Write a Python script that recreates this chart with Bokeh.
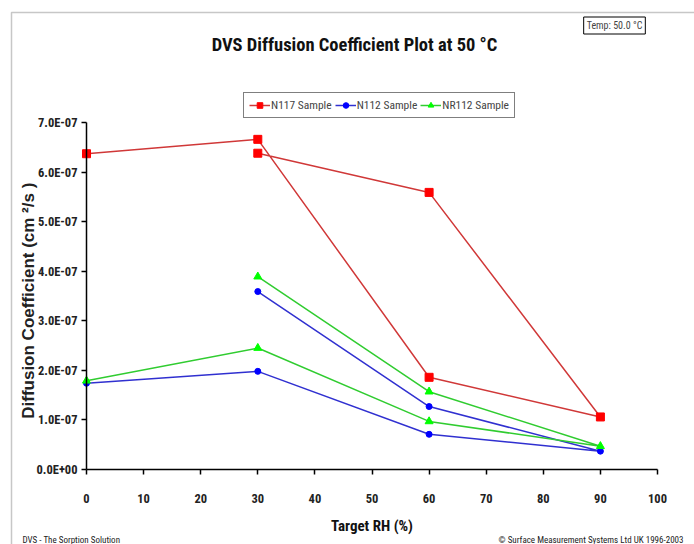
from bokeh.plotting import figure
from bokeh.models import (FixedTicker, CustomJSTickFormatter, Label, Legend, LegendItem,
                          BoxAnnotation, Range1d)
from bokeh.embed import file_html
from bokeh.resources import INLINE

# Data: sorption then desorption sequence
rh = [0, 30, 60, 90, 60, 30]
n117 = [6.37e-7, 6.66e-7, 1.86e-7, 1.06e-7, 5.59e-7, 6.38e-7]
n112 = [1.74e-7, 1.98e-7, 0.71e-7, 0.37e-7, 1.27e-7, 3.59e-7]
nr112 = [1.79e-7, 2.45e-7, 0.97e-7, 0.47e-7, 1.57e-7, 3.89e-7]

x_ticks = [0, 10, 20, 30, 40, 50, 60, 70, 80, 90, 100]
y_ticks = [0.0, 1e-7, 2e-7, 3e-7, 4e-7, 5e-7, 6e-7, 7e-7]
x_lim = (0, 100)
y_lim = (0.0, 7e-7)

F_NARROW = "Roboto Condensed"
F_WIDE = "Liberation Sans"

W, H = 694, 544
PX_L, PX_R, PX_T, PX_B = 86, 657, 122, 469
sx = (PX_R - PX_L) / (x_lim[1] - x_lim[0])
sy = (PX_B - PX_T) / (y_lim[1] - y_lim[0])
x_range = Range1d(x_lim[0] - PX_L / sx, x_lim[1] + (W - PX_R) / sx)
y_range = Range1d(y_lim[0] - (H - PX_B) / sy, y_lim[1] + PX_T / sy)

p = figure(width=W, height=H, output_backend="svg", toolbar_location=None,
           x_range=x_range, y_range=y_range,
           min_border_left=0, min_border_right=0, min_border_top=0, min_border_bottom=0)
p.outline_line_color = None
p.xgrid.visible = False
p.ygrid.visible = False
p.background_fill_color = "white"
p.border_fill_color = "white"

for ax in (p.xaxis, p.yaxis):
    ax.axis_line_color = "black"
    ax.axis_line_width = 1.5
    ax.major_tick_line_color = "black"
    ax.major_tick_line_width = 1.5
    ax.major_tick_out = 5
    ax.major_tick_in = 0
    ax.minor_tick_line_color = None
    ax.major_label_text_font = F_NARROW
    ax.major_label_text_font_size = "12.5px"
    ax.major_label_text_font_style = "bold"
    ax.major_label_text_color = "#222222"

p.xaxis.fixed_location = y_lim[0]
p.yaxis.fixed_location = x_lim[0]
p.xaxis.bounds = x_lim
p.yaxis.bounds = y_lim
p.xaxis.ticker = FixedTicker(ticks=x_ticks)
p.yaxis.ticker = FixedTicker(ticks=y_ticks)
p.yaxis.formatter = CustomJSTickFormatter(code="""
    let s = tick.toExponential(1).toUpperCase();
    let m = s.split('E');
    let e = parseInt(m[1]);
    let sign = e < 0 ? '-' : '+';
    let a = Math.abs(e);
    return m[0] + 'E' + sign + (a < 10 ? '0' + a : '' + a);
""")
p.xaxis.major_label_standoff = 19
p.yaxis.major_label_standoff = 4

p.xaxis.axis_label = "Target RH (%)"
p.xaxis.axis_label_text_font = F_NARROW
p.xaxis.axis_label_text_font_size = "15px"
p.xaxis.axis_label_text_font_style = "bold"
p.xaxis.axis_label_standoff = 11
p.xaxis.axis_label_text_color = "#111111"

p.yaxis.axis_label = "Diffusion  Coefficient  (cm ²/s )"
p.yaxis.axis_label_text_font = F_WIDE
p.yaxis.axis_label_text_font_size = "17px"
p.yaxis.axis_label_text_font_style = "bold"
p.yaxis.axis_label_standoff = -4
p.yaxis.axis_label_text_color = "#222222"

series = [
    ("N117 Sample", n117, "#D03838", "#FF0000", "square", 8),
    ("N112 Sample", n112, "#3030D0", "#0000FF", "circle", 6),
    ("NR112 Sample", nr112, "#30CC30", "#00FF00", "triangle", 8),
]
items = []
for name, ys, lc, mc, mk, sz in series:
    l = p.line(rh, ys, line_color=lc, line_width=1.5)
    s = p.scatter(rh, ys, marker=mk, size=sz, fill_color=mc, line_color=mc)
    items.append(LegendItem(label=name, renderers=[l, s]))

legend = Legend(items=items, orientation="horizontal", location=(243, H - 118),
                label_text_font=F_NARROW, label_text_font_size="11.5px",
                border_line_color="black", border_line_width=1,
                padding=5, spacing=3, margin=0, glyph_width=21, glyph_height=14,
                label_standoff=1, label_height=14, background_fill_alpha=1)
p.add_layout(legend, "center")

# Outer chart border
p.add_layout(BoxAnnotation(left=11, right=W + 20, top=12, bottom=H + 20,
                           left_units="canvas", right_units="canvas",
                           top_units="canvas", bottom_units="canvas",
                           fill_color=None, line_color="#444444", line_width=1.5,
                           level="underlay"))

p.add_layout(Label(x=354, y=44, x_units="canvas", y_units="canvas",
                   text="DVS Diffusion Coefficient Plot at 50 °C",
                   text_font=F_NARROW, text_font_size="18.5px", text_font_style="bold",
                   text_align="center", text_baseline="middle", text_color="#111111"))

p.add_layout(Label(x=614, y=25, x_units="canvas", y_units="canvas",
                   text="Temp: 50.0 °C", text_font=F_NARROW, text_font_size="10px",
                   text_align="center", text_baseline="middle",
                   border_line_color="black", border_line_width=1,
                   background_fill_color="white", padding=3))

p.add_layout(Label(x=22, y=539, x_units="canvas", y_units="canvas",
                   text="DVS - The Sorption Solution", text_font=F_NARROW, text_font_size="9px",
                   text_align="left", text_baseline="alphabetic", text_color="#222222"))
p.add_layout(Label(x=683, y=539, x_units="canvas", y_units="canvas",
                   text="© Surface Measurement Systems Ltd UK 1996-2003", text_font=F_NARROW,
                   text_font_size="9px", text_align="right", text_baseline="alphabetic",
                   text_color="#222222"))

open("out.html", "w").write(file_html(p, INLINE))
